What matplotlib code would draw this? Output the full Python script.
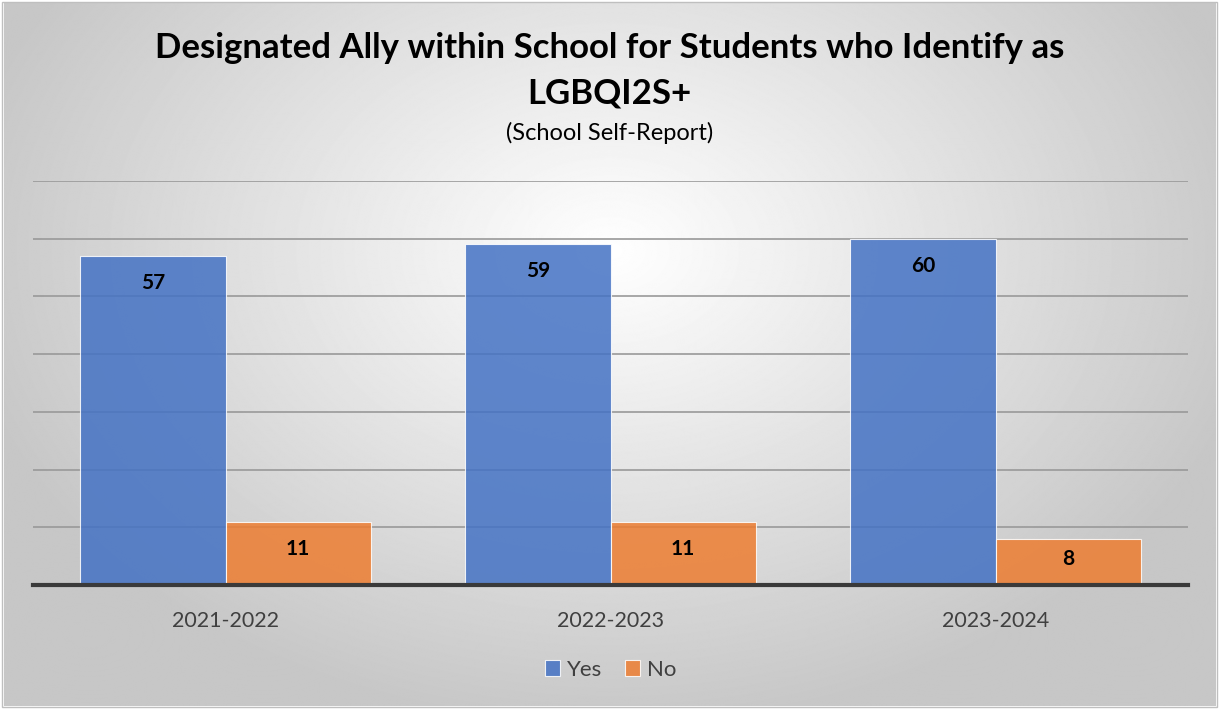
import numpy as np
import matplotlib.pyplot as plt

years = ['2021-2022', '2022-2023', '2023-2024']
yes_counts = [57, 59, 60]
no_counts = [11, 11, 8]

plt.rcParams['font.family'] = ['Lato', 'DejaVu Sans']

fig = plt.figure(figsize=(12.19, 7.09), dpi=100)

# radial gray background like the Office chart style
bg = fig.add_axes([0.003, 0.004, 0.994, 0.992])
yy, xx = np.mgrid[0:709, 0:1219]
r = np.sqrt(((xx - 610) / 900.0) ** 2 + ((yy - 250) / 650.0) ** 2)
shade = np.clip(1.0 - 0.30 * r, 0.78, 1.0)
bg.imshow(shade, cmap='gray', vmin=0, vmax=1, aspect='auto', extent=[0, 1, 0, 1])
bg.set_axis_off()
fig.patches.append(plt.Rectangle((0.002, 0.003), 0.996, 0.994, transform=fig.transFigure,
                                 fill=False, edgecolor='#bfbfbf', linewidth=1))

ax = fig.add_axes([33 / 1219, 1 - 585 / 709, (1188 - 33) / 1219, (585 - 181) / 709])
ax.patch.set_alpha(0)

x = np.arange(len(years))
w = 0.377
b1 = ax.bar(x - w / 2, yes_counts, w, color='#4472c4', alpha=0.85, edgecolor='white', linewidth=0.8, label='Yes', zorder=3)
b2 = ax.bar(x + w / 2, no_counts, w, color='#ed7d31', alpha=0.85, edgecolor='white', linewidth=0.8, label='No', zorder=3)

px_per_unit = 404 / 70
for bars in (b1, b2):
    for rect in bars:
        h = rect.get_height()
        off_px = min(27, h * px_per_unit - 26)
        ax.annotate(str(int(h)), (rect.get_x() + rect.get_width() / 2, h), xytext=(0, -off_px * 0.72),
                    textcoords='offset points', ha='center', va='center',
                    fontsize=15, fontweight='bold', color='black', zorder=4)

ax.set_xlim(-0.5, 2.5)
ax.set_ylim(0, 70)
ax.set_yticks(np.arange(10, 71, 10))
ax.yaxis.grid(True, color='#999999', linewidth=1.2, zorder=0)
ax.tick_params(axis='y', left=False, labelleft=False)
ax.tick_params(axis='x', bottom=False, labelsize=15.5, labelcolor='#404040', pad=15)
ax.set_xticks(x)
ax.set_xticklabels(years)
for side in ('top', 'right', 'left'):
    ax.spines[side].set_visible(False)
ax.spines['bottom'].set_color('#3a3a3a')
ax.spines['bottom'].set_linewidth(3)
ax.spines['bottom'].set_zorder(5)

fig.text(0.5, 1 - 48 / 709, 'Designated Ally within School for Students who Identify as',
         ha='center', va='center', fontsize=25, fontweight='bold')
fig.text(0.5, 1 - 94 / 709, 'LGBQI2S+', ha='center', va='center', fontsize=25, fontweight='bold')
fig.text(0.5, 1 - 133 / 709, '(School Self-Report)', ha='center', va='center', fontsize=17)

ax.legend(loc='center', bbox_to_anchor=(0.5, (585 - 670) / 404), ncol=2, frameon=False,
          fontsize=16, handlelength=0.7, handleheight=0.7, handletextpad=0.3,
          columnspacing=1.0, labelcolor='#404040')

fig.savefig('out.png', dpi=100)
